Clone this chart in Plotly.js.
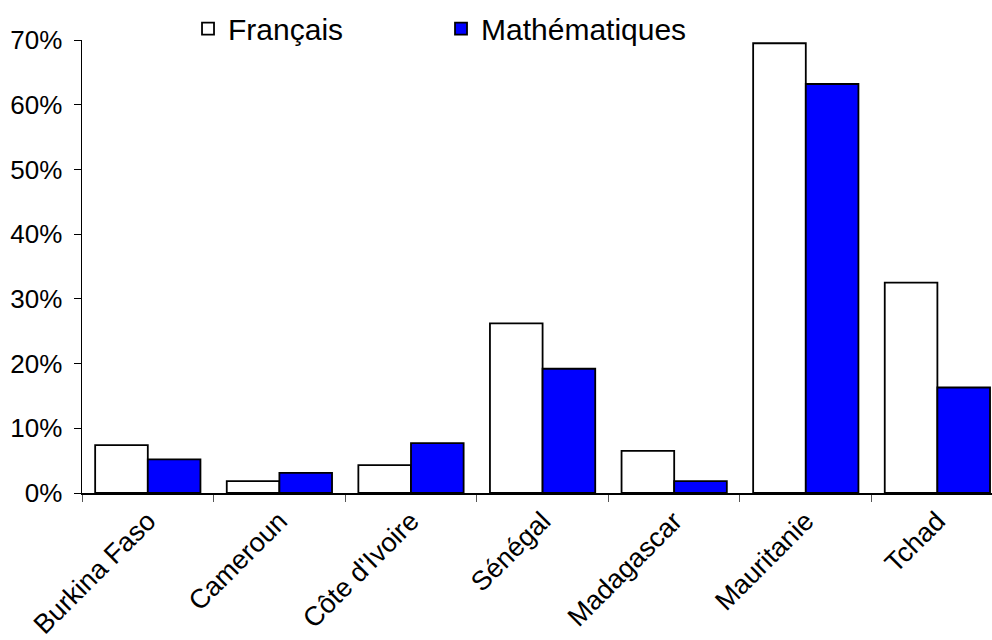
<!DOCTYPE html>
<html>
<head>
<meta charset="utf-8">
<script src="https://cdn.plot.ly/plotly-3.0.1.min.js"></script>
<style>html,body{margin:0;padding:0;background:#fff;}#chart{width:992px;height:640px;}</style>
</head>
<body>
<div id="chart"></div>
<script>
const countries = ["Burkina Faso", "Cameroun", "Côte d'Ivoire", "Sénégal", "Madagascar", "Mauritanie", "Tchad"];
const francais = [7.4, 1.85, 4.3, 26.2, 6.5, 69.5, 32.5];
const maths = [5.2, 3.1, 7.7, 19.2, 1.85, 63.2, 16.3];
const yTicks = [0, 10, 20, 30, 40, 50, 60, 70];

const font = "Liberation Sans, Arial, sans-serif";
const traces = [
  {type: 'bar', name: 'Français', x: countries, y: francais,
   marker: {color: '#ffffff', line: {color: '#000000', width: 1.8}}},
  {type: 'bar', name: 'Mathématiques', x: countries, y: maths,
   marker: {color: '#0000ff', line: {color: '#000000', width: 1.8}}}
];
const layout = {
  width: 992, height: 640,
  margin: {l: 82, r: 0, t: 40, b: 147},
  paper_bgcolor: '#ffffff', plot_bgcolor: '#ffffff',
  barmode: 'group', bargap: 0.2, bargroupgap: 0,
  font: {family: font, color: '#000000'},
  showlegend: true,
  legend: {orientation: 'h', x: 0.1165, xanchor: 'left', y: 1.025, yanchor: 'middle',
           font: {size: 30, family: font, color: '#000'},
           entrywidth: 208, entrywidthmode: 'pixels', bgcolor: 'rgba(0,0,0,0)'},
  xaxis: {type: 'category', range: [-0.5, 6.415], tickangle: -45,
          tickson: 'boundaries', ticks: 'outside', ticklen: 7, tickcolor: '#555',
          showline: true, linecolor: '#000', linewidth: 1.5, showgrid: false,
          tickfont: {size: 27, family: font, color: '#000'}, fixedrange: true},
  yaxis: {range: [0, 70], tickvals: yTicks, ticktext: yTicks.map(v => v + '%'),
          ticks: 'outside', ticklen: 7, tickcolor: '#000',
          showline: true, linecolor: '#000', linewidth: 1.5, showgrid: false, zeroline: false,
          tickfont: {size: 26, family: font, color: '#000'}, ticklabelstandoff: 6}
};
Plotly.newPlot('chart', traces, layout, {displayModeBar: false, staticPlot: true});
</script>
</body>
</html>
